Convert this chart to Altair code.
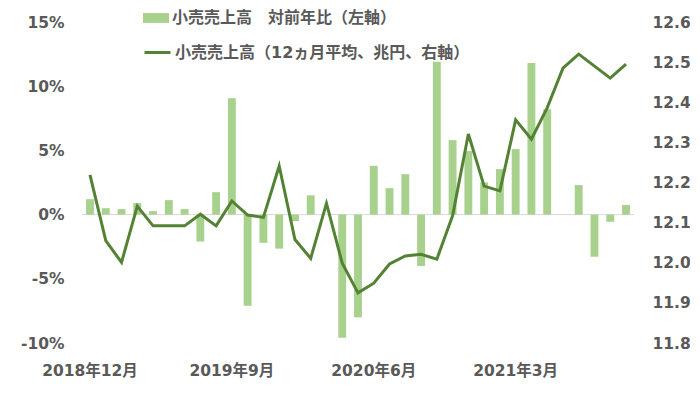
import altair as alt
import pandas as pd

# Categories: months from 2018年12月 to 2021年10月
months = []
yy, mm = 2018, 12
for _ in range(35):
    months.append(f"{yy}年{mm}月")
    mm += 1
    if mm > 12:
        mm = 1
        yy += 1

# 小売売上高 対前年比 (%), left axis
yoy = [1.2, 0.5, 0.43, 0.9, 0.27, 1.13, 0.43, -2.1, 1.75, 9.07, -7.1, -2.2,
       -2.65, -0.5, 1.5, 0.0, -9.6, -8.0, 3.8, 2.06, 3.15, -4.0, 11.9, 5.8,
       4.95, 2.5, 3.54, 5.1, 11.8, 8.2, 0.0, 2.3, -3.28, -0.56, 0.75]

# 小売売上高 12ヵ月平均 (兆円), right axis
avg12 = [12.219, 12.055, 12.001, 12.141, 12.092, 12.092, 12.092, 12.121, 12.092, 12.154, 12.119, 12.113,
         12.241, 12.058, 12.011, 12.148, 11.999, 11.925, 11.949, 11.997, 12.017, 12.021, 12.009,
         12.117, 12.321, 12.191, 12.179, 12.356, 12.308, 12.386, 12.485, 12.520, 12.490, 12.460, 12.495]

x_ticks = ["2018年12月", "2019年9月", "2020年6月", "2021年3月"]
left_ticks = [-10, -5, 0, 5, 10, 15]
right_ticks = [11.8, 11.9, 12.0, 12.1, 12.2, 12.3, 12.4, 12.5, 12.6]

bar_name = "小売売上高　対前年比（左軸）"
line_name = "小売売上高（12ヵ月平均、兆円、右軸）"

df = pd.DataFrame({
    "month": months,
    "yoy": yoy,
    "avg": avg12,
    "s1": [bar_name] * len(months),
    "s2": [line_name] * len(months),
})
zero_df = pd.DataFrame({"zero": [0]})

FONT = "DejaVu Sans, Noto Sans CJK JP, sans-serif"
TXT = "#595959"
BAR = "#a9d18e"
LINE = "#548235"
AX_FS = 15.5
LG_FS = 16

xenc = alt.X(
    "month:N", sort=months,
    scale=alt.Scale(paddingInner=0.5, paddingOuter=0.257),
    axis=alt.Axis(values=x_ticks, title=None, labelAngle=0, ticks=False, tickSize=0,
                  domain=False, labelPadding=20, labelFont=FONT, labelFontSize=AX_FS,
                  labelFontWeight="bold", labelColor=TXT, labelOverlap=False),
)

left_axis = alt.Axis(values=left_ticks, title=None, labelExpr="datum.value + '%'",
                     ticks=False, tickSize=0, domain=False, grid=False, labelPadding=18,
                     labelFont=FONT, labelFontSize=AX_FS, labelFontWeight="bold",
                     labelColor=TXT)
left_scale = alt.Scale(domain=[-10, 15], nice=False)

rule = alt.Chart(zero_df).mark_rule(color="#d9d9d9", strokeWidth=1).encode(
    y=alt.Y("zero:Q", scale=left_scale, axis=left_axis, title=None)
)

bars = alt.Chart(df).mark_bar().encode(
    x=xenc,
    y=alt.Y("yoy:Q", scale=left_scale, axis=left_axis, title=None),
    fill=alt.Fill("s1:N", scale=alt.Scale(range=[BAR]),
                  legend=alt.Legend(title=None, orient="none", legendX=61, legendY=-17,
                                    symbolType="M-1,-0.38H1V0.38H-1Z", symbolSize=676,
                                    symbolStrokeWidth=0, labelOffset=3, labelLimit=500,
                                    labelFont=FONT, labelFontSize=LG_FS, labelFontWeight="bold",
                                    labelColor=TXT, padding=0)),
)

line = alt.Chart(df).mark_line(strokeWidth=3).encode(
    x=alt.X("month:N", sort=months),
    y=alt.Y("avg:Q", scale=alt.Scale(domain=[11.8, 12.6], nice=False, zero=False),
            axis=alt.Axis(orient="right", values=right_ticks, format=".1f", title=None,
                          ticks=False, tickSize=0, domain=False, grid=False, labelPadding=18,
                          labelFont=FONT, labelFontSize=AX_FS, labelFontWeight="bold",
                          labelColor=TXT)),
    stroke=alt.Stroke("s2:N", scale=alt.Scale(range=[LINE]),
                      legend=alt.Legend(title=None, orient="none", legendX=61, legendY=16,
                                        symbolType="stroke", symbolSize=676,
                                        symbolStrokeWidth=3, labelOffset=3, labelLimit=500,
                                        labelFont=FONT, labelFontSize=LG_FS, labelFontWeight="bold",
                                        labelColor=TXT, padding=0)),
)

left = alt.layer(rule, bars)
chart = alt.layer(left, line).resolve_scale(y="independent").properties(
    width=552, height=321,
    autosize=alt.AutoSizeParams(type="none"),
    padding={"left": 74, "top": 14, "right": 56, "bottom": 50},
    background="white",
).configure_view(stroke=None)

chart.save("out.html", embed_options={"renderer": "svg", "actions": False})
